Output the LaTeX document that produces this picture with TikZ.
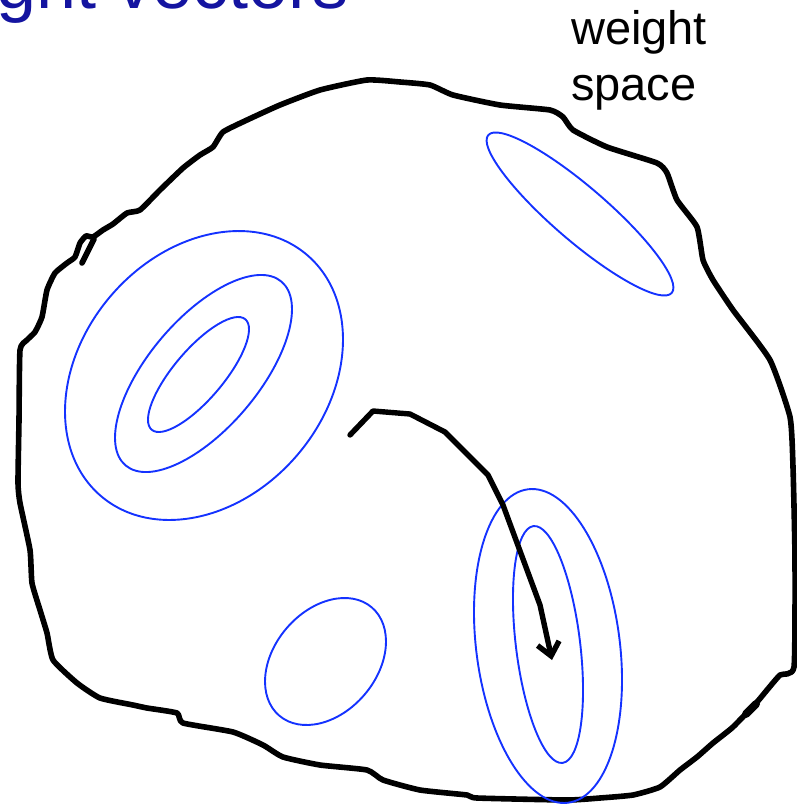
\documentclass[tikz,border=0pt]{standalone}
\usepackage{fontspec}
\setmainfont{Liberation Sans}
\usetikzlibrary{arrows.meta}
\definecolor{contour}{RGB}{20,50,255}
\definecolor{titleblue}{RGB}{20,20,160}
\tikzset{
  blob/.style={line width=5.6pt, line join=round, line cap=round, black},
  contourline/.style={line width=1.9pt, contour},
  descent/.style={line width=5.4pt, line join=round, line cap=round, -{Straight Barb[length=13pt,width=22pt,line width=5.4pt]}},
  label/.style={inner sep=0pt, font=\fontsize{47}{55}\selectfont}
}
\begin{document}
\begin{tikzpicture}[x=1pt,y=-1pt]
\useasboundingbox (0,0) rectangle (796,808);
% title (clipped at top)
\node[anchor=base west, inner sep=0pt, text=titleblue, font=\fontsize{72}{84}\selectfont] (title) at (-4,9) {ght vectors};
% label
\node[label, anchor=base west] (w1) at (571,45) {weight};
\node[label, anchor=base west] (w2) at (571,100) {space};
% outline
\draw[blob] plot[smooth cycle, tension=0.3] coordinates {
(30,550) (20,503) (18,483) (19,420) (20,350) (27,340) (35,332) (42,317) (47,290) (55,273) (67,263) (75,257) (80,243) (86,236) (93,237) (103,230) (113,224) (127,213) (140,210) (160,190) (183,168) (200,155) (213,147) (223,132) (247,120) (280,105) (320,90) (367,80) (400,82) (430,85) (453,95) (500,105) (550,110) (563,117) (573,130) (607,147) (657,163) (667,173) (677,200) (697,227) (703,260) (713,280) (733,310) (770,360) (790,417) (793,467) (795,560) (794,667) (780,675) (767,690) (757,702) (733,727) (713,743) (697,757) (680,770) (660,787) (633,795) (600,798) (567,800) (477,798) (467,795) (420,790) (383,780) (367,770) (320,765) (283,757) (263,745) (233,732) (183,723) (177,713) (147,708) (133,705) (100,698) (77,683) (53,660) (47,633) (40,610) (32,583)};
\draw[blob] (94,239) -- (82,263);
\draw[blob, line width=8pt] (746,714) -- (756,704);
% contours
\draw[contourline] (580,214) ellipse [x radius=121pt, y radius=27pt, rotate=-40.7];
\draw[contourline] (204,375.5) ellipse [x radius=158.6pt, y radius=122.6pt, rotate=49.4];
\draw[contourline] (203.5,373.5) ellipse [x radius=120.5pt, y radius=54.9pt, rotate=49.7];
\draw[contourline] (198.5,374.5) ellipse [x radius=72.4pt, y radius=24.8pt, rotate=49.7];
\draw[contourline] (325.5,661.5) ellipse [x radius=71.2pt, y radius=51.2pt, rotate=49.4];
\draw[contourline] (548,646) ellipse [x radius=158pt, y radius=71.8pt, rotate=97.3];
\draw[contourline] (548,644.5) ellipse [x radius=119.3pt, y radius=32.1pt, rotate=97];
% descent path
\coordinate (start) at (350,435);
\coordinate (finish) at (552,660);
\draw[descent] (start) -- (373,411) -- (410,414) -- (445,432) -- (488,475) -- (503,505) -- (540,605) -- (finish);
\end{tikzpicture}
\end{document}
